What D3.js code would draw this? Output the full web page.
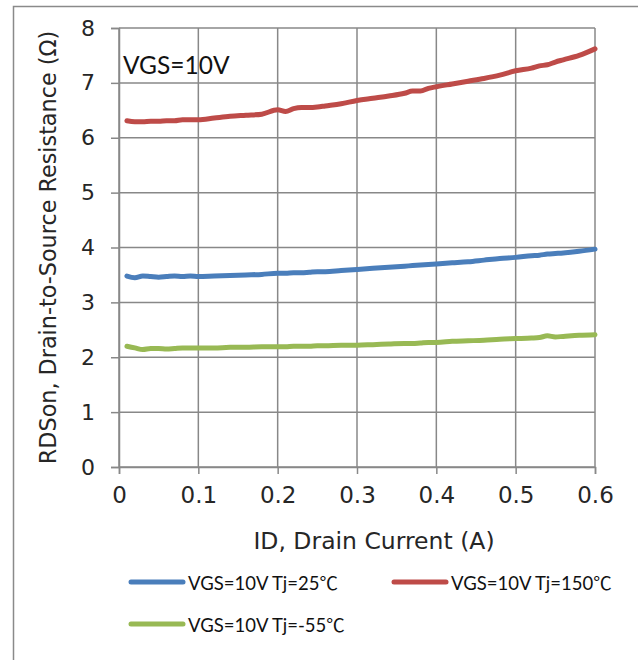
<!DOCTYPE html>
<html>
<head>
<meta charset="utf-8">
<script src="https://cdn.jsdelivr.net/npm/d3@7"></script>
<style>
  body { margin: 0; background: #fff; }
  svg { display: block; }
</style>
</head>
<body>
<svg id="chart" width="638" height="660"></svg>
<script>
// RDSon vs drain current, three junction temps at VGS=10V

const currents = [0.01,0.02,0.03,0.04,0.05,0.06,0.07,0.08,0.09,0.1,0.12,0.14,0.16,0.18,0.2,0.21,0.22,0.23,0.24,0.25,0.26,0.28,0.3,0.32,0.34,0.36,0.37,0.38,0.39,0.4,0.42,0.44,0.46,0.48,0.5,0.52,0.53,0.54,0.55,0.56,0.58,0.6];

const r25 = [3.48,3.45,3.48,3.47,3.46,3.47,3.48,3.47,3.48,3.47,3.48,3.49,3.50,3.51,3.53,3.53,3.54,3.54,3.55,3.56,3.56,3.58,3.60,3.62,3.64,3.66,3.67,3.68,3.69,3.70,3.72,3.74,3.77,3.80,3.82,3.85,3.86,3.88,3.89,3.90,3.93,3.97];

const r150 = [6.31,6.29,6.29,6.30,6.30,6.31,6.31,6.33,6.33,6.33,6.36,6.39,6.41,6.43,6.51,6.48,6.53,6.55,6.55,6.56,6.58,6.62,6.68,6.72,6.76,6.81,6.85,6.85,6.90,6.93,6.98,7.03,7.08,7.14,7.22,7.27,7.31,7.33,7.38,7.42,7.50,7.62];

const rm55 = [2.20,2.17,2.14,2.16,2.16,2.15,2.16,2.17,2.17,2.17,2.17,2.18,2.18,2.19,2.19,2.19,2.20,2.20,2.20,2.21,2.21,2.22,2.22,2.23,2.24,2.25,2.25,2.26,2.27,2.27,2.29,2.30,2.31,2.33,2.34,2.35,2.36,2.39,2.37,2.38,2.40,2.41];

const seriesNames = ["VGS=10V Tj=25℃", "VGS=10V Tj=150℃", "VGS=10V Tj=-55℃"];
const seriesColors = ["#4a7ebb", "#be4b48", "#98b954"];
const xTicks = [0, 0.1, 0.2, 0.3, 0.4, 0.5, 0.6];
const yTicks = [0, 1, 2, 3, 4, 5, 6, 7, 8];

const svg = d3.select("#chart");
const tickFont = "'DejaVu Sans', sans-serif";
const labelFont = "Lato, 'Noto Sans CJK KR', sans-serif";

// outer frame
svg.append("rect")
  .attr("x", 13.5).attr("y", 6.5)
  .attr("width", 700).attr("height", 700)
  .attr("fill", "none").attr("stroke", "#8a8a8a").attr("stroke-width", 1.5);

const plotLeft = 119, plotRight = 595, plotTop = 28, plotBottom = 467;
const x = d3.scaleLinear([0, 0.6], [plotLeft, plotRight]);
const y = d3.scaleLinear([0, 8], [plotBottom, plotTop]);

// grid
const grid = svg.append("g").attr("stroke", "#888").attr("stroke-width", 1.5);
grid.selectAll(".gx").data(xTicks).join("line")
  .attr("x1", d => x(d)).attr("x2", d => x(d))
  .attr("y1", plotTop).attr("y2", plotBottom);
grid.selectAll(".gy").data(yTicks).join("line")
  .attr("x1", plotLeft).attr("x2", plotRight)
  .attr("y1", d => y(d)).attr("y2", d => y(d));

// axes
const xAxis = svg.append("g")
  .attr("transform", "translate(0," + plotBottom + ")")
  .call(d3.axisBottom(x).tickValues(xTicks).tickSize(7).tickPadding(13).tickFormat(d3.format("")));
const yAxis = svg.append("g")
  .attr("transform", "translate(" + plotLeft + ",0)")
  .call(d3.axisLeft(y).tickValues(yTicks).tickSize(8).tickPadding(16));
[xAxis, yAxis].forEach(a => {
  a.select(".domain").attr("stroke", "#888").attr("stroke-width", 1.5);
  a.selectAll(".tick line").attr("stroke", "#888").attr("stroke-width", 1.5);
  a.selectAll("text").attr("fill", "#262626").style("font-family", tickFont);
});
xAxis.selectAll("text").style("font-size", "23px");
yAxis.selectAll("text").style("font-size", "22px");

// lines
const allSeries = [r25, r150, rm55];
const line = d3.line().x((d, i) => x(currents[i])).y(d => y(d)).curve(d3.curveMonotoneX);
svg.append("g").selectAll("path").data(allSeries).join("path")
  .attr("d", d => line(d))
  .attr("fill", "none")
  .attr("stroke", (d, i) => seriesColors[i])
  .attr("stroke-width", 5)
  .attr("stroke-linecap", "round")
  .attr("stroke-linejoin", "round");

// annotation
svg.append("text")
  .attr("x", 123).attr("y", 74)
  .style("font-family", labelFont).style("font-size", "24.5px")
  .attr("fill", "#111")
  .text("VGS=10V");

// axis titles
svg.append("text")
  .attr("x", 374).attr("y", 549)
  .attr("text-anchor", "middle")
  .style("font-family", tickFont).style("font-size", "23.5px")
  .attr("fill", "#262626")
  .text("ID, Drain Current (A)");
svg.append("text")
  .attr("transform", "translate(56," + ((plotTop + plotBottom) / 2) + ") rotate(-90)")
  .attr("text-anchor", "middle")
  .style("font-family", tickFont).style("font-size", "22.3px")
  .attr("fill", "#262626")
  .text("RDSon, Drain-to-Source Resistance (Ω)");

// legend
const legendPos = [[131, 582], [394, 582], [131, 624]];
const lg = svg.append("g").selectAll("g").data(seriesNames).join("g")
  .attr("transform", (d, i) => "translate(" + legendPos[i][0] + "," + legendPos[i][1] + ")");
lg.append("line")
  .attr("x1", 0).attr("x2", 52).attr("y1", 0).attr("y2", 0)
  .attr("stroke", (d, i) => seriesColors[i])
  .attr("stroke-width", 5).attr("stroke-linecap", "round");
lg.append("text")
  .attr("x", 57).attr("y", 7.5)
  .style("font-family", labelFont).style("font-size", "18.5px")
  .attr("fill", "#111")
  .text(d => d);
</script>
</body>
</html>
